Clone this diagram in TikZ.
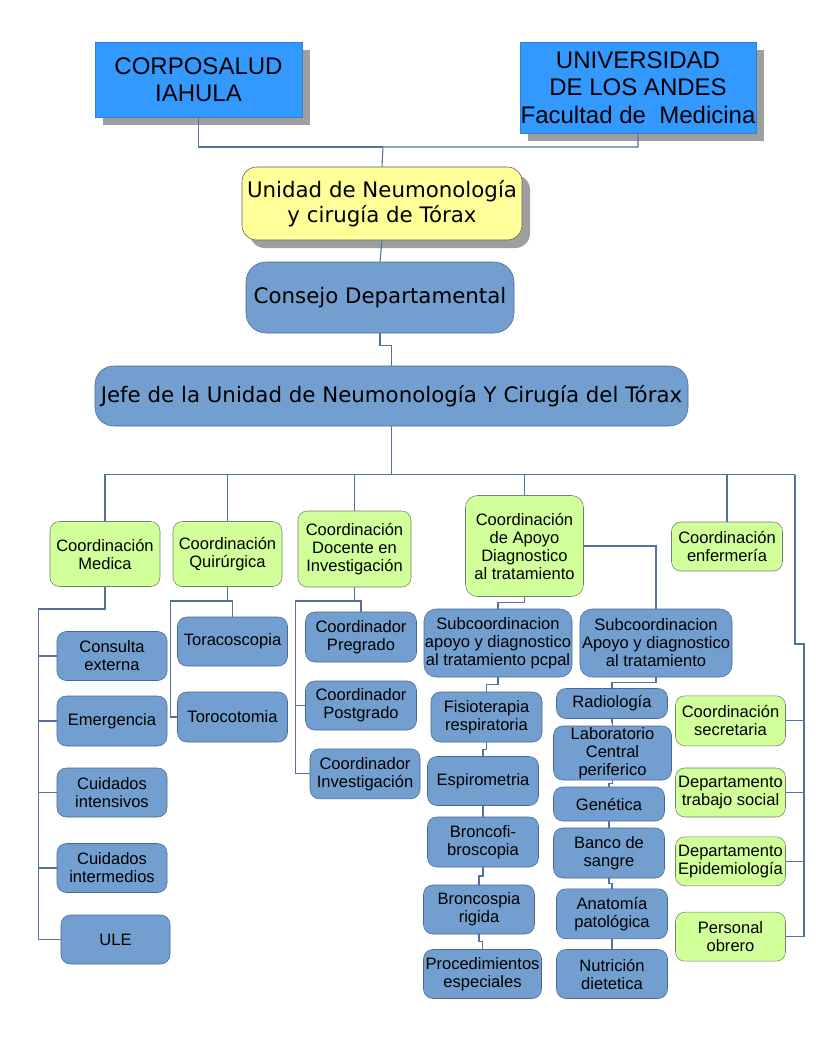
\documentclass[tikz,border=0pt]{standalone}
\usepackage{fontspec}
\setmainfont{Liberation Sans}
\newfontfamily\dejavu{DejaVu Sans}
\usetikzlibrary{calc,shadows}

\definecolor{topblue}{RGB}{51,153,255}
\definecolor{boxblue}{RGB}{114,159,207}
\definecolor{boxedge}{RGB}{72,104,150}
\definecolor{boxgreen}{RGB}{209,255,153}
\definecolor{greenedge}{RGB}{110,130,110}
\definecolor{boxyellow}{RGB}{255,255,153}
\definecolor{linecol}{RGB}{84,114,160}

\begin{document}
\begin{tikzpicture}[x=0.75pt, y=-0.75pt,
   wh/.style 2 args={minimum width=#1*0.75pt, minimum height=#2*0.75pt},
   cell/.style={draw, align=center, inner sep=0pt, font=\fontsize{12.4}{13.5}\selectfont},
   blu/.style={cell, rounded corners=7pt, fill=boxblue, draw=boxedge},
   grn/.style={cell, rounded corners=7pt, fill=boxgreen, draw=greenedge},
   big/.style={cell, fill=topblue, draw=topblue!85!black, font=\fontsize{18}{20.5}\selectfont,
      drop shadow={shadow xshift=6pt, shadow yshift=-6pt, fill=gray!75, opacity=1}},
   head/.style={cell, fill=boxblue, draw=boxedge, font=\dejavu\fontsize{16}{18.75}\selectfont},
   ln/.style={draw=linecol, line width=0.8pt}]
   \fill[white] (0,0) rectangle (816,1056);
   \useasboundingbox (0,0) rectangle (816,1056);

   % top level
   \node[big, wh={207}{75}] (corpo) at (198.5,79.5) {CORPOSALUD\\IAHULA};
   \node[big, wh={236}{91}] (univ) at (638,87.5) {UNIVERSIDAD\\DE LOS ANDES\\Facultad de~ Medicina};
   \node[head, wh={280}{73}, fill=boxyellow, draw=gray!70!black, rounded corners=11pt,
      drop shadow={shadow xshift=6pt, shadow yshift=-6pt, fill=gray!75, opacity=1}] (unidad) at (382,203.5)
      {Unidad de Neumonología\\y cirugía de Tórax};
   \node[head, wh={268}{71}, rounded corners=15pt] (consejo) at (380,297.5) {Consejo Departamental};
   \node[head, wh={593}{60}, rounded corners=14pt] (jefe) at (391.5,396)
      {Jefe de la Unidad de Neumonología Y Cirugía del Tórax};

   % coordinaciones
   \node[grn, wh={110}{65}] (cmed) at (105,554) {Coordinación\\Medica};
   \node[grn, wh={109}{65}] (cqui) at (227.5,554) {Coordinación\\Quirúrgica};
   \node[grn, wh={113}{76}] (cdoc) at (354.5,549) {Coordinación\\Docente en\\Investigación};
   \node[grn, wh={118}{101}, rounded corners=9pt] (capo) at (524.5,546) {Coordinación\\de Apoyo\\Diagnostico\\al tratamiento};
   \node[grn, wh={111}{49}] (cenf) at (727,546.5) {Coordinación\\enfermería};

   % medica
   \node[blu, wh={110}{49}] (cext) at (112,656) {Consulta\\externa};
   \node[blu, wh={110}{50}] (emer) at (112,721) {Emergencia};
   \node[blu, wh={110}{49}] (cint) at (112,792.5) {Cuidados\\intensivos};
   \node[blu, wh={110}{49}] (cinm) at (112,868) {Cuidados\\intermedios};
   \node[blu, wh={109}{49}] (ule) at (115.5,939.5) {ULE};

   % quirurgica
   \node[blu, wh={110}{49}] (torac) at (232.5,641.5) {Toracoscopia};
   \node[blu, wh={110}{50}] (toroc) at (232.5,717) {Torocotomia};

   % docente
   \node[blu, wh={111}{50}] (cpre) at (361,637) {Coordinador\\Pregrado};
   \node[blu, wh={111}{49}] (cpos) at (361,705.5) {Coordinador\\Postgrado};
   \node[blu, wh={110}{50}] (cinv) at (365,773.8) {Coordinador\\Investigación};

   % apoyo
   \node[blu, wh={148}{68}, rounded corners=9pt] (sub1) at (498,643) {Subcoordinacion\\apoyo y diagnostico\\al tratamiento pcpal};
   \node[blu, wh={152}{68}, rounded corners=9pt] (sub2) at (656,643) {Subcoordinacion\\Apoyo y diagnostico\\al tratamiento};
   \node[blu, wh={111}{50}] (fisio) at (486.5,717) {Fisioterapia\\respiratoria};
   \node[blu, wh={111}{49}] (espir) at (483,781) {Espirometria};
   \node[blu, wh={111}{50}] (bronco) at (483,842) {Broncofi-\\broscopia};
   \node[blu, wh={111}{49}] (brig) at (479,909.5) {Broncospia\\rigida};
   \node[blu, wh={118}{49}] (proc) at (482.5,974) {Procedimientos\\especiales};
   \node[blu, wh={111}{30}] (rad) at (612,703.5) {Radiología};
   \node[blu, wh={118}{54}] (lab) at (612.5,753) {Laboratorio\\Central\\periferico};
   \node[blu, wh={111}{34}] (gen) at (609,804) {Genética};
   \node[blu, wh={111}{50}] (banco) at (609,853) {Banco de\\sangre};
   \node[blu, wh={111}{50}] (anat) at (612,913.8) {Anatomía\\patológica};
   \node[blu, wh={111}{49}] (nutr) at (612,974) {Nutrición\\dietetica};

   % right column
   \node[grn, wh={110}{50}] (csec) at (730.5,720.8) {Coordinación\\secretaria};
   \node[grn, wh={110}{49}] (ctsoc) at (730.5,792.5) {Departamento\\trabajo social};
   \node[grn, wh={110}{49}] (cepi) at (730.5,861.3) {Departamento\\Epidemiología};
   \node[grn, wh={110}{49}] (pobr) at (730.5,936.7) {Personal\\obrero};

   % junction points
   \coordinate (topj) at (383,147);
   \coordinate (busL) at (104,474.5);
   \coordinate (busR) at (795,474.5);
   \coordinate (medbus) at (38.5,609);
   \coordinate (qbus) at (170.5,601);
   \coordinate (dbus) at (295.5,601);
   \coordinate (rbus) at (804,644);

   % connectors
   \draw[ln] (corpo.south) |- (topj);
   \draw[ln] (univ.south) |- (topj) -- (unidad.north);
   \draw[ln] (unidad.south) -- (consejo.north);
   \draw[ln] (consejo.south) -- ++(0,12) -| (jefe.north);
   \draw[ln] (jefe.south) -- (jefe.south |- busL);
   \draw[ln] (busL) -- (busR);
   \foreach \n in {cmed,cqui,cdoc,capo,cenf}
      \draw[ln] (busL -| \n.north) -- (\n.north);

   \draw[ln] (cmed.south) |- (medbus) -- (medbus |- ule.west) -- (ule.west);
   \foreach \n in {cext,emer,cint,cinm}
      \draw[ln] (medbus |- \n.west) -- (\n.west);

   \draw[ln] (cqui.south) |- (qbus) -- (qbus |- toroc.west) -- (toroc.west);
   \draw[ln] (cqui.south |- qbus) -| (torac.north);

   \draw[ln] (cdoc.south) |- (dbus) -- (dbus |- cinv.west) -- (cinv.west);
   \draw[ln] (cdoc.south |- dbus) -| (cpre.north);
   \draw[ln] (dbus |- cpos.west) -- (cpos.west);

   \draw[ln] (capo.south) -- ++(0,6) -| (sub1.north);
   \draw[ln] (capo.east) -| (sub2.north);
   \foreach \a/\b in {sub1/fisio, fisio/espir, espir/bronco, bronco/brig, brig/proc,
                      sub2/rad, rad/lab, lab/gen, gen/banco, banco/anat, anat/nutr}
      \draw[ln] (\a.south) |- ($(\a.south)!.5!(\b.north)$) -| (\b.north);

   \draw[ln] (busR) |- (rbus) -- (rbus |- pobr.east) -- (pobr.east);
   \foreach \n in {csec,ctsoc,cepi}
      \draw[ln] (rbus |- \n.east) -- (\n.east);
\end{tikzpicture}
\end{document}
